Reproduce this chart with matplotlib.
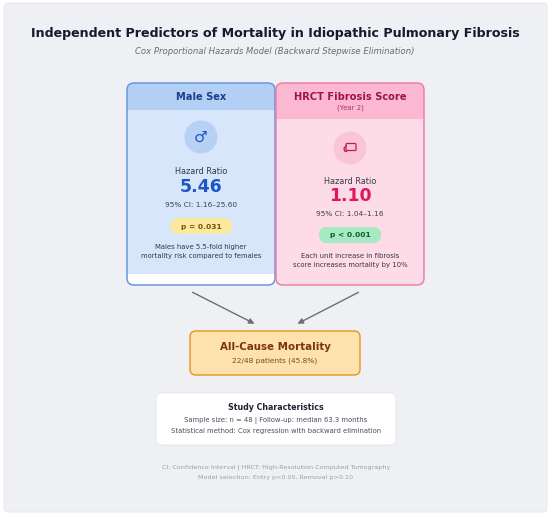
import numpy as np
import matplotlib.pyplot as plt
from matplotlib.patches import FancyBboxPatch, Circle, Rectangle, FancyArrowPatch

# data
title = 'Independent Predictors of Mortality in Idiopathic Pulmonary Fibrosis'
subtitle = 'Cox Proportional Hazards Model (Backward Stepwise Elimination)'
predictors = ['Male Sex', 'HRCT Fibrosis Score']
pred_notes = ['', '(Year 2)']
hazard_ratios = [5.46, 1.10]
ci_low = [1.16, 1.04]
ci_high = [25.60, 1.16]
p_labels = ['p = 0.031', 'p < 0.001']
descriptions = ['Males have 5.5-fold higher\nmortality risk compared to females',
                'Each unit increase in fibrosis\nscore increases mortality by 10%']
deaths = 22
n_patients = 48
followup_median = 63.3
footnotes = ['CI: Confidence Interval | HRCT: High-Resolution Computed Tomography',
             'Model selection: Entry p<0.05, Removal p>0.10']

fig = plt.figure(figsize=(5.5, 5.17), dpi=100)
ax = fig.add_axes([0, 0, 1, 1])
ax.set_xlim(0, 550)
ax.set_ylim(517, 0)
ax.axis('off')
fig.patch.set_facecolor('white')

# background panel
ax.add_patch(FancyBboxPatch((4, 3), 543, 509, boxstyle='round,pad=0,rounding_size=4',
                            fc='#eff0f3', ec='#e6e7ea', lw=0.6))

ax.text(275, 34, title, ha='center', va='center', fontsize=9.1, fontweight='bold', color='#161a2e')
ax.text(275, 51, subtitle, ha='center', va='center', fontsize=6.15, style='italic', color='#666b75')

# card styles
cards = [
    dict(x=127, w=148, head_h=27, body_end=274, head='#b4cff4', body='#d7e6fb', edge='#6698e0',
         title_c='#1b3d8f', icon_c='#b7d1f5', icon_y=137, hr_c='#1b55c9', shift=0),
    dict(x=276, w=148, head_h=36, body_end=284, head='#fbb8d0', body='#fddce7', edge='#ef7ea6',
         title_c='#9c1448', icon_c='#fbc5d8', icon_y=148, hr_c='#e0175e', shift=9),
]
top, bottom = 83, 285

for i, c in enumerate(cards):
    cx = c['x'] + c['w'] / 2
    ax.add_patch(FancyBboxPatch((c['x'], top), c['w'], bottom - top,
                                boxstyle='round,pad=0,rounding_size=7', fc='white', ec='none'))
    ax.add_patch(FancyBboxPatch((c['x'], top), c['w'], c['body_end'] - top,
                                boxstyle='round,pad=0,rounding_size=7', fc=c['body'], ec='none'))
    if c['body_end'] < bottom:
        ax.add_patch(Rectangle((c['x'], c['body_end'] - 10), c['w'], 10, fc=c['body'], ec='none'))
    ax.add_patch(FancyBboxPatch((c['x'], top), c['w'], c['head_h'],
                                boxstyle='round,pad=0,rounding_size=7', fc=c['head'], ec='none'))
    ax.add_patch(Rectangle((c['x'], top + c['head_h'] - 8), c['w'], 8, fc=c['head'], ec='none'))
    ax.add_patch(FancyBboxPatch((c['x'], top), c['w'], bottom - top,
                                boxstyle='round,pad=0,rounding_size=7', fc='none', ec=c['edge'], lw=1.1))

    ax.text(cx, 97, predictors[i], ha='center', va='center', fontsize=7.1, fontweight='bold', color=c['title_c'])
    if pred_notes[i]:
        ax.text(cx, 108, pred_notes[i], ha='center', va='center', fontsize=5.0, color=c['title_c'], alpha=0.8)

    iy = c['icon_y']
    ax.add_patch(Circle((cx, iy), 16.5, fc=c['icon_c'], ec='none'))
    if i == 0:
        ax.text(cx, iy, '\u2642', ha='center', va='center', fontsize=11, color=c['hr_c'])
    else:
        ax.add_patch(FancyBboxPatch((cx - 4, iy - 4.5), 10, 7, boxstyle='round,pad=0,rounding_size=1',
                                    fc='none', ec='#c2185b', lw=0.9))
        ax.plot([cx - 4, cx - 6, cx - 5.5, cx - 3.5], [iy - 2, iy, iy + 3, iy + 3.5], color='#c2185b', lw=0.9)

    s = c['shift']
    ax.text(cx, 172 + s, 'Hazard Ratio', ha='center', va='center', fontsize=5.9, color='#333a45')
    ax.text(cx, 187 + s, f'{hazard_ratios[i]:.2f}', ha='center', va='center', fontsize=12.4,
            fontweight='bold', color=c['hr_c'])
    ax.text(cx, 205 + s, f'95% CI: {ci_low[i]:.2f}\u2013{ci_high[i]:.2f}', ha='center', va='center',
            fontsize=5.3, color='#3c424c')
    pill_fc, pill_tc = ('#fbe9a0', '#735400') if i == 0 else ('#a6e9c3', '#0d5c33')
    ax.add_patch(FancyBboxPatch((cx - 31, 218 + s), 62, 16, boxstyle='round,pad=0,rounding_size=8',
                                fc=pill_fc, ec='none'))
    ax.text(cx, 226.5 + s, p_labels[i], ha='center', va='center', fontsize=5.4, fontweight='bold', color=pill_tc)
    ax.text(cx, 251.5 + s, descriptions[i], ha='center', va='center', fontsize=4.95, color='#333a45',
            linespacing=1.5)

# arrows to outcome
for x0, x1 in [(190, 257), (361, 295)]:
    ax.add_patch(FancyArrowPatch((x0, 291), (x1, 325), arrowstyle='-|>', mutation_scale=8,
                                 color='#6b6f76', lw=1.0))

# outcome box
ax.add_patch(FancyBboxPatch((190, 331), 170, 44, boxstyle='round,pad=0,rounding_size=6',
                            fc='#fde2ae', ec='#e99a30', lw=1.1))
ax.text(275, 347, 'All-Cause Mortality', ha='center', va='center', fontsize=7.4, fontweight='bold', color='#7a3608')
ax.text(275, 361, f'{deaths}/{n_patients} patients ({deaths / n_patients * 100:.1f}%)', ha='center', va='center',
        fontsize=5.3, color='#7a4a1a')

# study characteristics
ax.add_patch(FancyBboxPatch((156, 393), 240, 52, boxstyle='round,pad=0,rounding_size=6',
                            fc='white', ec='#e4e6ea', lw=0.6))
ax.text(276, 407, 'Study Characteristics', ha='center', va='center', fontsize=5.7, fontweight='bold', color='#1f2530')
ax.text(276, 420, f'Sample size: n = {n_patients} | Follow-up: median {followup_median} months',
        ha='center', va='center', fontsize=4.95, color='#4a505a')
ax.text(276, 431, 'Statistical method: Cox regression with backward elimination',
        ha='center', va='center', fontsize=4.95, color='#4a505a')

ax.text(276, 467, footnotes[0], ha='center', va='center', fontsize=4.6, color='#9a9ea6')
ax.text(276, 478, footnotes[1], ha='center', va='center', fontsize=4.6, color='#9a9ea6')

fig.savefig('out.png', dpi=100)
